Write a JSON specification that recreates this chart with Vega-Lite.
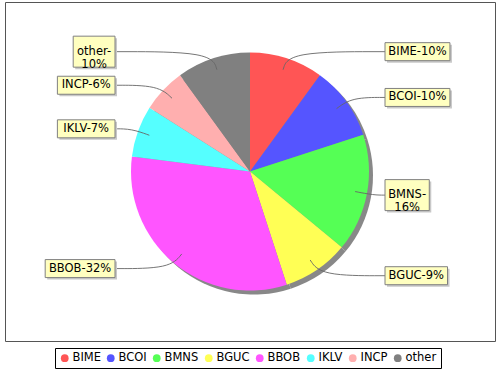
{
  "$schema": "https://vega.github.io/schema/vega-lite/v6.json",
  "width": 490,
  "height": 339,
  "autosize": "none",
  "padding": {"left": 5, "top": 2, "right": 5, "bottom": 29},
  "background": "white",
  "config": {
    "view": {"stroke": "#555555", "strokeWidth": 1},
    "font": "DejaVu Sans",
    "legend": {
      "orient": "none",
      "legendX": 50,
      "legendY": 346,
      "direction": "horizontal",
      "strokeColor": "black",
      "padding": 4,
      "labelFont": "DejaVu Sans",
      "labelFontSize": 11.5,
      "labelColor": "black",
      "symbolType": "circle",
      "symbolSize": 60,
      "symbolStrokeWidth": 0,
      "columnPadding": 4,
      "labelOffset": 2
    }
  },
  "data": {
    "values": [
      {"slice": "BIME", "pct": 10, "label": "BIME-10%"},
      {"slice": "BCOI", "pct": 10, "label": "BCOI-10%"},
      {"slice": "BMNS", "pct": 16, "label": "BMNS-\n16%"},
      {"slice": "BGUC", "pct": 9, "label": "BGUC-9%"},
      {"slice": "BBOB", "pct": 32, "label": "BBOB-32%"},
      {"slice": "IKLV", "pct": 7, "label": "IKLV-7%"},
      {"slice": "INCP", "pct": 6, "label": "INCP-6%"},
      {"slice": "other", "pct": 10, "label": "other-\n10%"}
    ]
  },
  "transform": [
    {"window": [{"op": "sum", "field": "pct", "as": "cum"}], "frame": [null, 0]},
    {"calculate": "datum.cum - datum.pct", "as": "start"},
    {"calculate": "(datum.start + datum.pct/2)/100*2*PI", "as": "mid"},
    {"calculate": "sin(datum.mid) > 0 ? 1 : -1", "as": "side"},
    {"calculate": "126*cos(datum.mid)", "as": "ly"},
    {"calculate": "107*sin(datum.mid)", "as": "ax"},
    {"calculate": "107*cos(datum.mid)", "as": "ay"},
    {"calculate": "126*sin(datum.mid)", "as": "ex"},
    {"calculate": "126*cos(datum.mid)", "as": "ey"},
    {"calculate": "135*datum.side", "as": "bx"},
    {"calculate": "split(datum.label, '\\n')[0]", "as": "fl"},
    {"calculate": "11.5*(0.72*(length(replace(datum.fl, regexp('[^A-Z]','g'), '')) - length(replace(datum.fl, regexp('[^I]','g'), ''))) + 0.295*length(replace(datum.fl, regexp('[^I]','g'), '')) + 0.533*length(replace(datum.fl, regexp('[^a-z]','g'), '')) + 0.636*length(replace(datum.fl, regexp('[^0-9]','g'), '')) + 0.95*length(replace(datum.fl, regexp('[^%]','g'), '')) + 0.361*length(replace(datum.fl, regexp('[^-]','g'), ''))) + 7", "as": "w"},
    {"calculate": "indexof(datum.label, '\\n') >= 0 ? 31 : 18", "as": "h"},
    {"calculate": "datum.bx + datum.side*datum.w", "as": "bx2"},
    {"calculate": "(datum.bx + datum.bx2)/2", "as": "tx"},
    {"calculate": "datum.ly + datum.h/2", "as": "by"},
    {"calculate": "datum.ly - datum.h/2", "as": "by2"}
  ],
  "layer": [
    {
      "mark": {"type": "arc", "outerRadius": 119, "fill": "#888888"},
      "encoding": {
        "theta": {"field": "start", "type": "quantitative", "stack": null, "scale": {"type": "linear", "domain": [0, 100], "range": [0, 6.283185307]}},
        "theta2": {"field": "cum"},
        "x": {"datum": 4, "type": "quantitative", "scale": {"domain": [-245, 245], "nice": false, "zero": false}, "axis": null},
        "y": {"datum": -4, "type": "quantitative", "scale": {"domain": [-169.5, 169.5], "nice": false, "zero": false}, "axis": null}
      }
    },
    {
      "mark": {"type": "arc", "outerRadius": 119},
      "encoding": {
        "theta": {"field": "start", "type": "quantitative", "stack": null, "scale": {"type": "linear", "domain": [0, 100], "range": [0, 6.283185307]}},
        "theta2": {"field": "cum"},
        "x": {"datum": 0, "type": "quantitative", "scale": {"domain": [-245, 245], "nice": false, "zero": false}, "axis": null},
        "y": {"datum": 0, "type": "quantitative", "scale": {"domain": [-169.5, 169.5], "nice": false, "zero": false}, "axis": null},
        "color": {
          "field": "slice",
          "type": "nominal",
          "title": null,
          "scale": {
            "domain": ["BIME", "BCOI", "BMNS", "BGUC", "BBOB", "IKLV", "INCP", "other"],
            "range": ["#FF5555", "#5555FF", "#55FF55", "#FFFF55", "#FF55FF", "#55FFFF", "#FFAFAF", "#808080"]
          }
        }
      }
    },
    {
      "transform": [
        {"fold": ["ax", "ex", "bx"], "as": ["pt", "px"]},
        {"calculate": "datum.pt == 'ax' ? datum.ay : (datum.pt == 'ex' ? datum.ey : datum.ly)", "as": "py"},
        {"calculate": "indexof(['ax','ex','bx'], datum.pt)", "as": "idx"}
      ],
      "mark": {"type": "line", "color": "#666666", "strokeWidth": 0.9, "interpolate": "basis"},
      "encoding": {
        "x": {"field": "px", "type": "quantitative", "scale": {"domain": [-245, 245], "nice": false, "zero": false}, "axis": null},
        "y": {"field": "py", "type": "quantitative", "scale": {"domain": [-169.5, 169.5], "nice": false, "zero": false}, "axis": null},
        "detail": {"field": "slice"},
        "order": {"field": "idx", "type": "quantitative"}
      }
    },
    {
      "mark": {"type": "rect", "fill": "#C8C8C8", "xOffset": 2, "x2Offset": 2, "yOffset": 2, "y2Offset": 2},
      "encoding": {
        "x": {"field": "bx", "type": "quantitative", "scale": {"domain": [-245, 245], "nice": false, "zero": false}, "axis": null},
        "x2": {"field": "bx2"},
        "y": {"field": "by", "type": "quantitative", "scale": {"domain": [-169.5, 169.5], "nice": false, "zero": false}, "axis": null},
        "y2": {"field": "by2"}
      }
    },
    {
      "mark": {"type": "rect", "fill": "#FFFFC0", "stroke": "#808080", "strokeWidth": 1},
      "encoding": {
        "x": {"field": "bx", "type": "quantitative", "scale": {"domain": [-245, 245], "nice": false, "zero": false}, "axis": null},
        "x2": {"field": "bx2"},
        "y": {"field": "by", "type": "quantitative", "scale": {"domain": [-169.5, 169.5], "nice": false, "zero": false}, "axis": null},
        "y2": {"field": "by2"}
      }
    },
    {
      "mark": {"type": "text", "align": "center", "baseline": "middle", "fontSize": 11.5, "font": "DejaVu Sans", "color": "black", "lineBreak": "\n", "lineHeight": 13},
      "encoding": {
        "x": {"field": "tx", "type": "quantitative", "scale": {"domain": [-245, 245], "nice": false, "zero": false}, "axis": null},
        "y": {"field": "ly", "type": "quantitative", "scale": {"domain": [-169.5, 169.5], "nice": false, "zero": false}, "axis": null},
        "text": {"field": "label"}
      }
    }
  ]
}
